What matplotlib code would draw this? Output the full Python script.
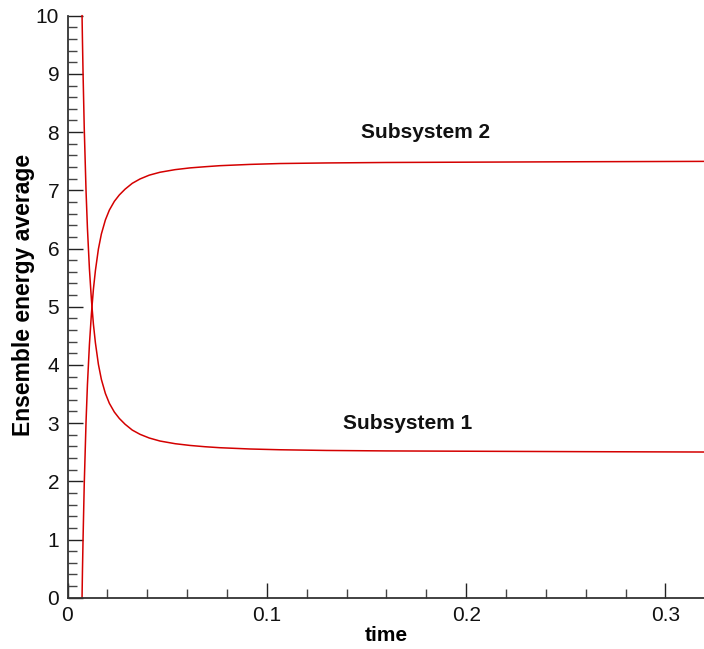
import matplotlib
matplotlib.use("Agg")
import matplotlib.pyplot as plt
from matplotlib.ticker import MultipleLocator, FuncFormatter

# Values
time = [0.0073, 0.0075, 0.0078, 0.0084, 0.0093, 0.0100, 0.0110, 0.0120, 0.0130,
        0.0140, 0.0155, 0.0170, 0.0190, 0.0210, 0.0235, 0.0260, 0.0289, 0.0325,
        0.0364, 0.0410, 0.0464, 0.0540, 0.0615, 0.0690, 0.0765, 0.0916, 0.1066,
        0.1300, 0.1600, 0.2135, 0.2600, 0.3200]
subsystem1 = [10.0, 9.58, 9.02, 8.07, 6.99, 6.35, 5.65, 5.12, 4.70, 4.38, 4.01,
              3.75, 3.51, 3.34, 3.19, 3.08, 2.98, 2.88, 2.807, 2.744, 2.692,
              2.646, 2.616, 2.594, 2.577, 2.555, 2.542, 2.530, 2.522, 2.515,
              2.509, 2.503]
subsystem2 = [0.0, 0.45, 1.0, 1.95, 3.02, 3.66, 4.35, 4.88, 5.30, 5.62, 5.99,
              6.25, 6.49, 6.66, 6.81, 6.92, 7.02, 7.12, 7.195, 7.26, 7.31,
              7.355, 7.385, 7.405, 7.423, 7.445, 7.46, 7.47, 7.478, 7.485,
              7.491, 7.497]
labels = ["Subsystem 1", "Subsystem 2"]
label_pos = [(0.1706, 3.0), (0.1794, 8.0)]

plt.rcParams['font.family'] = ['Liberation Sans', 'DejaVu Sans']

fig = plt.figure(figsize=(7.04, 6.49), dpi=100)
ax = fig.add_axes([67.5/704, 51.3/649, 637.8/704, 582.0/649])

red = '#d40000'
ax.plot(time, subsystem1, color=red, lw=1.1, clip_on=False)
ax.plot(time, subsystem2, color=red, lw=1.1, clip_on=False)

for txt, (x, y) in zip(labels, label_pos):
    ax.text(x, y, txt, ha='center', va='center', fontsize=15, fontweight='bold',
            color='#111111')

ax.set_xlim(0, 0.32)
ax.set_ylim(0, 10)
ax.xaxis.set_major_locator(MultipleLocator(0.1))
ax.xaxis.set_minor_locator(MultipleLocator(0.02))
ax.yaxis.set_major_locator(MultipleLocator(1))
ax.yaxis.set_minor_locator(MultipleLocator(0.2))
ax.xaxis.set_major_formatter(FuncFormatter(
    lambda v, p: '0' if abs(v) < 1e-9 else f'{v:g}'))

for s in ['top', 'right']:
    ax.spines[s].set_visible(False)
for s in ['left', 'bottom']:
    ax.spines[s].set_color('#333333')
    ax.spines[s].set_linewidth(1.3)

ax.tick_params(which='major', direction='in', length=10.8, width=1.0,
               color='#222222', labelsize=15, labelcolor='#111111', pad=6)
ax.tick_params(which='minor', direction='in', length=6.8, width=1.0,
               color='#444444')

ax.set_xlabel('time', fontsize=15, fontweight='bold', labelpad=1)
ax.set_ylabel('Ensemble energy average', fontsize=16.5, fontweight='bold')
ax.yaxis.set_label_coords(-0.0502, 0.52)

fig.savefig('out.png', dpi=100)
